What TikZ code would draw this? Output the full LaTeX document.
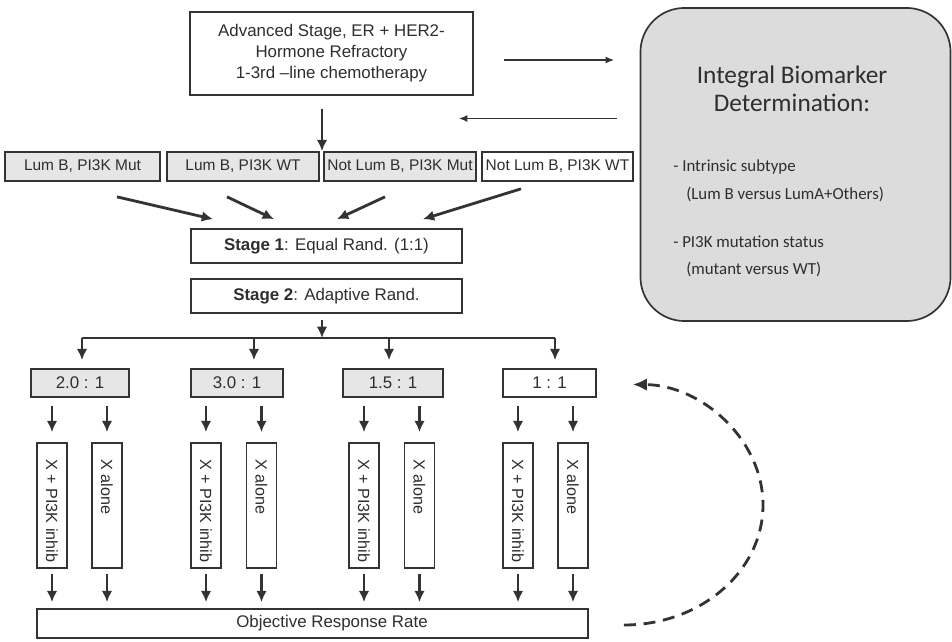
\documentclass[tikz,border=0pt]{standalone}
\usepackage{fontspec}
\setmainfont{Liberation Sans}
\newfontfamily\calibrifont{Carlito}
\usepackage{xcolor}
\usetikzlibrary{arrows.meta, positioning, calc}
\definecolor{BoxLine}{HTML}{333333}
\definecolor{BoxGray}{HTML}{E6E6E6}
\definecolor{BioGray}{HTML}{DCDCDC}
\definecolor{TextDark}{HTML}{2E2E2E}
\tikzset{
  >=latex,
  % boxes
  box/.style={draw=BoxLine,line width=1.2pt,inner sep=0pt,text=TextDark,align=center,font=\fontsize{12}{15}\selectfont},
  box gray/.style={box,fill=BoxGray},
  cat/.style={minimum width=3.8cm,minimum height=0.725cm,font=\fontsize{11}{13}\selectfont},
  stagebox/.style={box,minimum width=6.775cm,minimum height=0.85cm},
  ratio/.style={minimum height=0.7cm},
  treat/.style={box,minimum width=0.75cm,minimum height=3.125cm},
  vtext/.style={rotate=-90,anchor=west,inner sep=0pt,text=TextDark,font=\fontsize{11.5}{13}\selectfont},
  biotext/.style={inner sep=0pt,text=TextDark,font=\calibrifont\fontsize{12}{14}\selectfont},
  % connectors
  bigline/.style={line width=2pt,BoxLine},
  bigarrow/.style={-{Latex[length=8pt,width=7.5pt]},line width=2pt,BoxLine},
  thinarrow/.style={-{Latex[length=6pt,width=5pt]},line width=1pt,BoxLine},
  feedback/.style={-{Latex[length=10pt,width=9pt]},dash pattern=on 8.5pt off 5.5pt,line width=2pt,BoxLine}
}
\begin{document}
\begin{tikzpicture}[x=0.025cm,y=-0.025cm]
  \useasboundingbox (0,0) rectangle (952,642);
  % top box and biomarker box
  \node[box,minimum width=7.075cm,minimum height=2.075cm] (top) at (331.5,53.5)
    {Advanced Stage, ER + HER2-\\Hormone Refractory\\1-3rd --line chemotherapy};
  \node[draw=BoxLine,line width=1.2pt,fill=BioGray,rounded corners=1.1cm,
        minimum width=7.75cm,minimum height=7.825cm] (bio) at (795.5,164.5) {};
  \node[biotext,font=\calibrifont\fontsize{18}{20}\selectfont] (bio1) at (792,77) {Integral Biomarker};
  \node[biotext,font=\calibrifont\fontsize{18}{20}\selectfont] (bio2) at (792,103) {Determination:};
  \node[biotext,anchor=west] (bio3) at (673,167) {- Intrinsic subtype};
  \node[biotext,anchor=west] (bio4) at (686,195) {(Lum B versus LumA+Others)};
  \node[biotext,anchor=west] (bio5) at (673,242) {- PI3K mutation status};
  \node[biotext,anchor=west] (bio6) at (686,270) {(mutant versus WT)};
  \draw[thinarrow] ($(top.east)+(30,6.5)$) -- ($(top.east -| bio.west)+(-25.5,6.5)$);
  \draw[thinarrow] ($(top.east -| bio.west)+(-22.5,65)$) -- ($(top.east)+(-15,65)$);

  % subgroups
  \node[box gray,cat,minimum width=3.875cm] (cat1) at (82.5,166.5) {Lum B, PI3K Mut};
  \node[box gray,cat] (cat2) at (243,166.5) {Lum B, PI3K WT};
  \node[box gray,cat] (cat3) at (400,166.5) {Not Lum B, PI3K Mut};
  \node[box,cat,minimum width=3.775cm] (cat4) at (557.5,166.5) {Not Lum B, PI3K WT};
  \draw[bigarrow,shorten <=0.325cm] (top.south -| 322,0) -- (cat2.north -| 322,0);

  % stages
  \node[stagebox] (stage1) at (326.5,246) {\textbf{Stage 1}: Equal Rand. (1:1)};
  \node[stagebox] (stage2) at (326.5,296) {\textbf{Stage 2}: Adaptive Rand.};
  \draw[bigarrow] ($(cat1.south)+(34.5,15)$) -- ($(stage1.north)+(-113.5,-9)$);
  \draw[bigarrow] ($(cat2.south)+(-16,15)$) -- ($(stage1.north)+(-52.5,-9)$);
  \draw[bigarrow] ($(cat3.south)+(-15,15)$) -- ($(stage1.north)+(10.5,-9)$);
  \draw[bigarrow] ($(cat4.south)+(-36.5,7)$) -- ($(stage1.north)+(96.5,-9)$);

  % allocation ratios
  \node[box gray,ratio,minimum width=2.45cm] (r1) at (80,383) {2.0 : 1};
  \node[box gray,ratio,minimum width=2.3cm] (r2) at (237,383) {3.0 : 1};
  \node[box gray,ratio,minimum width=2.5cm] (r3) at (393,383) {1.5 : 1};
  \node[box,ratio,minimum width=2.325cm] (r4) at (549.5,383) {1 : 1};
  \coordinate (split) at (322,338);
  \coordinate (d1) at (82,338);
  \coordinate (d2) at (254,338);
  \coordinate (d3) at (389,338);
  \coordinate (d4) at (555,338);
  \draw[bigarrow,shorten <=0.15cm] (stage2.south -| split) -- (split);
  \draw[bigline] (d1) -- (d4);
  \foreach \n in {1,...,4}
    \draw[bigarrow,shorten >=0.2cm] (d\n) -- (d\n |- r\n.north);

  % treatment arms
  \node[box,minimum width=13.775cm,minimum height=0.725cm] (orr) at (312.5,623.5) {};
  \node[inner sep=0pt,text=TextDark,font=\fontsize{12}{15}\selectfont] (orrtext) at (332,623.5) {Objective Response Rate};
  \foreach \n/\xa/\xb in {1/52/107, 2/206/261.5, 3/364/419.5, 4/518/573} {
    \node[treat] (ta\n) at (\xa,505.5) {};
    \node[treat] (tb\n) at (\xb,505.5) {};
    \node[vtext] (la\n) at ($(ta\n.north)+(0,17)$) {X + PI3K inhib};
    \node[vtext] (lb\n) at ($(tb\n.north)+(0,17)$) {X alone};
    \draw[bigarrow,shorten <=0.2cm,shorten >=0.25cm] (ta\n |- r\n.south) -- (ta\n.north);
    \draw[bigarrow,shorten <=0.2cm,shorten >=0.25cm] (tb\n |- r\n.south) -- (tb\n.north);
    \draw[bigarrow,shorten <=0.125cm,shorten >=0.15cm] (ta\n.south) -- (ta\n.south |- orr.north);
    \draw[bigarrow,shorten <=0.125cm,shorten >=0.15cm] (tb\n.south) -- (tb\n.south |- orr.north);
  }

  % feedback to the allocation
  \coordinate (loopa) at ($(orr.east)+(35,1.5)$);
  \coordinate (loopb) at ($(r4.east)+(36,1.5)$);
  \draw[feedback] (loopa) .. controls (701,625) and (763,571) .. (763,505)
    .. controls (763,439) and (701,385) .. (loopb);
\end{tikzpicture}
\end{document}
